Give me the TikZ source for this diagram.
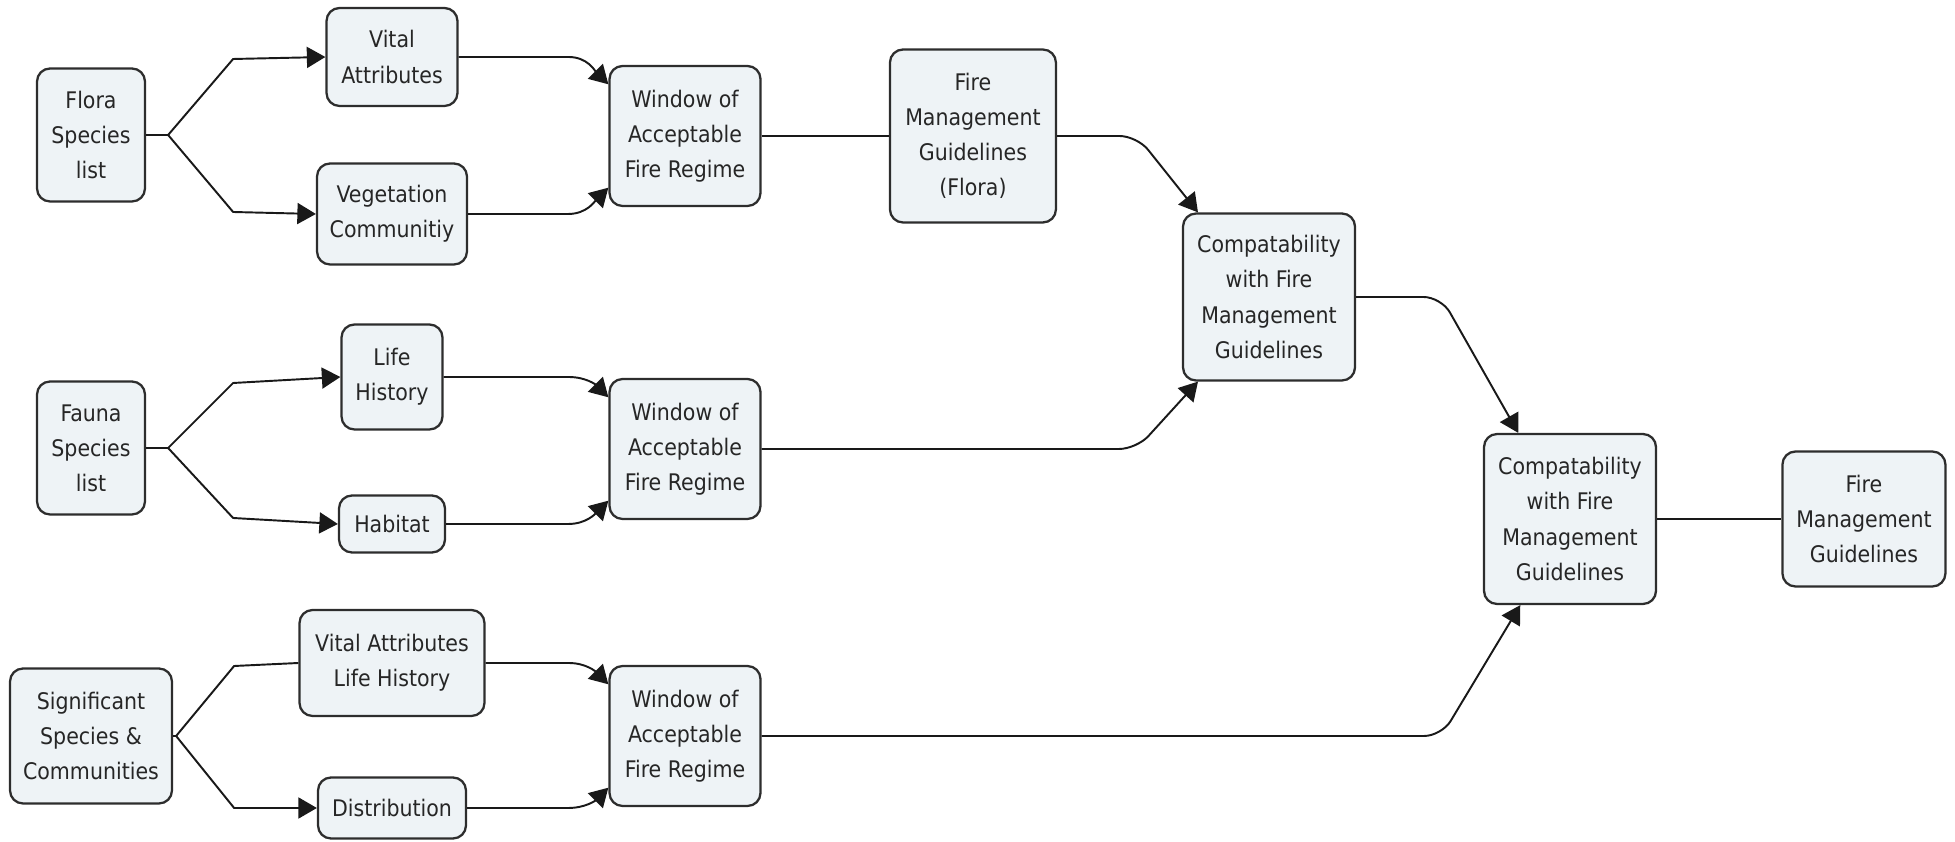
\documentclass[tikz,border=0pt]{standalone}
\usepackage{fontspec}
\usepackage{tikz}
\usetikzlibrary{arrows.meta}
\setmainfont{DejaVu Sans Condensed}
\definecolor{conceptfill}{RGB}{238,243,246}
\definecolor{conceptline}{RGB}{45,45,45}

\begin{document}
\begin{tikzpicture}[x=0.02cm, y=0.02cm, node distance=2cm,
    concept node/.style 2 args={rectangle, rounded corners=0.26cm, draw=conceptline,
      line width=1.3pt, fill=conceptfill, text=black!85, align=center, inner sep=0pt,
      font=\fontsize{13}{20}\selectfont, minimum width=#1cm, minimum height=#2cm},
    link/.style={line width=1.1pt, draw=black!90, -{Triangle[length=0.37cm,width=0.42cm]}},
    plain link/.style={line width=1.1pt, draw=black!90}]

    \useasboundingbox (0,0) rectangle (1955,842);

    % flora row
    \node[concept node={2.16}{2.66}] (1) at (91,707) {Flora\\Species\\list};
    \node[concept node={2.62}{1.96}] (2) at (392,785) {Vital\\Attributes};
    \node[concept node={3.0}{2.02}] (3) at (392,628) {Vegetation\\Communitiy};
    \node[concept node={3.02}{2.8}] (4) at (685,706) {Window of\\Acceptable\\Fire Regime};
    \node[concept node={3.32}{3.46}] (5) [right of=4, node distance=5.76cm] {Fire\\Management\\Guidelines\\(Flora)};
    \node[concept node={3.44}{3.34}] (6) at (1269,545) {Compatability\\with Fire\\Management\\Guidelines};

    % fauna row
    \node[concept node={2.16}{2.66}] (7) at (91,394) {Fauna\\Species\\list};
    \node[concept node={2.02}{2.1}] (8) at (392,465) {Life\\History};
    \node[concept node={2.12}{1.14}] (9) at (392,318) {Habitat};
    \node[concept node={3.02}{2.8}] (10) at (685,393) {Window of\\Acceptable\\Fire Regime};
    \node[concept node={3.44}{3.4}] (11) at (1570,323) {Compatability\\with Fire\\Management\\Guidelines};
    \node[concept node={3.26}{2.7}] (12) [right of=11, node distance=5.88cm] {Fire\\Management\\Guidelines};

    % significant row
    \node[concept node={3.24}{2.7}] (13) at (91,106) {Significant\\Species \&\\Communities};
    \node[concept node={3.7}{2.12}] (14) at (392,179) {Vital Attributes\\Life History};
    \node[concept node={2.96}{1.22}] (15) at (392,34) {Distribution};
    \node[concept node={3.02}{2.8}] (16) at (685,106) {Window of\\Acceptable\\Fire Regime};

    % fans
    \draw[link] (1.east) -- ++(22,0) -- ++(65,76) -- (2.west);
    \draw[link] (1.east) -- ++(22,0) -- ++(65,-77) -- (3.west);
    \draw[link] (7.east) -- ++(22,0) -- ++(65,65) -- (8.west);
    \draw[link] (7.east) -- ++(22,0) -- ++(65,-70) -- (9.west);
    \draw[plain link] (13.east) -- ++(3,0) -- ++(58,70) -- (14.west);
    \draw[link] (13.east) -- ++(3,0) -- ++(58,-72) -- (15.west);

    % into the windows
    \draw[link] (2.east) -- ++(110,0) to[out=0,in=135] (4.146);
    \draw[link] (3.east) -- ++(100,0) to[out=0,in=225] (4.214);
    \draw[link] (8.east) -- ++(125,0) to[out=0,in=135] (10.146);
    \draw[link] (9.east) -- ++(122,0) to[out=0,in=225] (10.214);
    \draw[link] (14.east) -- ++(83,0) to[out=0,in=135] (16.146);
    \draw[link] (15.east) -- ++(101,0) to[out=0,in=225] (16.214);

    \path[plain link] (4) edge (5) (11) edge (12);

    \draw[link, rounded corners=10pt] (5.east) -- ++(80,0) -- (6.130);
    \draw[link, rounded corners=10pt] (10.east) -- ++(375,0) -- (6.230);
    \draw[link, rounded corners=10pt] (6.east) -- ++(85,0) -- (11.121);
    \draw[link, rounded corners=10pt] (16.east) -- ++(680,0) -- (11.240);
\end{tikzpicture}
\end{document}
